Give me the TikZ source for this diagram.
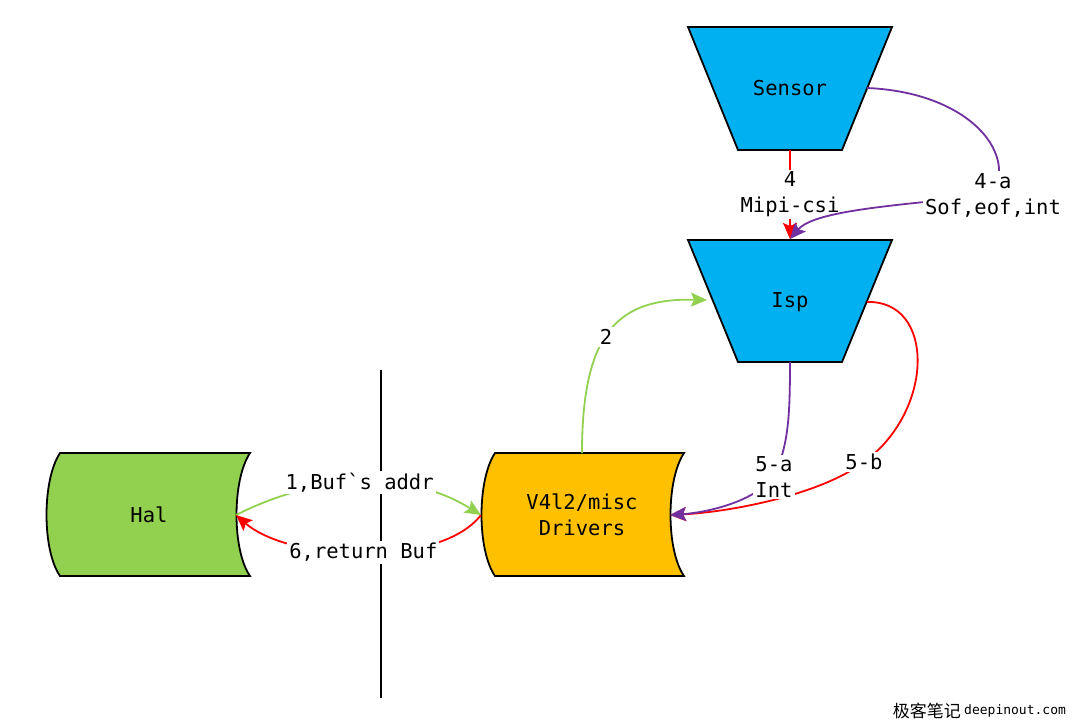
\documentclass[tikz,border=0pt]{standalone}
\usepackage{fontspec}
\usepackage{xcolor}
\usepackage{tikz}
\setmonofont{DejaVu Sans Mono}
\newfontfamily\cjk{Noto Sans CJK SC}
\usetikzlibrary{arrows.meta}
\definecolor{ispblue}{RGB}{0,176,240}
\definecolor{halgreen}{RGB}{146,208,80}
\definecolor{drvorange}{RGB}{255,192,0}
\definecolor{irqpurple}{RGB}{112,48,160}
\definecolor{busred}{RGB}{255,0,0}
\tikzset{
  box/.style={draw=black, line width=1.8pt, line join=miter},
  txt/.style={font=\ttfamily\fontsize{20.5}{26}\selectfont, align=center, inner sep=1pt, text=black},
  lab/.style={txt, fill=white, inner sep=2pt},
  wire/.style={line width=1.8pt, -{Stealth[length=16pt,width=14pt,inset=3pt]}},
}

\begin{document}
\begin{tikzpicture}[x=1pt,y=-1pt]
\useasboundingbox (0,0) rectangle (1074,721);

\draw[box, fill=ispblue] (688,27)--(892,27)--(842,150)--(738,150)--cycle;
\draw[box, fill=ispblue] (688,240)--(892,240)--(842,362)--(738,362)--cycle;
\draw[box, fill=halgreen] (60,453)--(250,453) .. controls (232,480) and (232,550) .. (250,576)
  --(60,576) .. controls (42,550) and (42,480) .. (60,453)--cycle;
\draw[box, fill=drvorange] (495,453)--(684,453) .. controls (666,480) and (666,550) .. (684,576)
  --(495,576) .. controls (477,550) and (477,480) .. (495,453)--cycle;

\node[txt] (sensor) at (790,88) {Sensor};
\node[txt] (isp) at (790,302) {Isp};
\node[txt] (hal) at (149,515) {Hal};
\node[txt] (drv) at (582,515) {V4l2/misc\\Drivers};

\coordinate (sensorB) at (790,150);
\coordinate (sensorR) at (867,88);
\coordinate (ispT) at (790,239);
\coordinate (ispL) at (707,300);
\coordinate (ispR) at (867,302);
\coordinate (ispB) at (790,362);
\coordinate (halR) at (236,515);
\coordinate (drvL) at (481,515);
\coordinate (drvR) at (670,515);
\coordinate (drvT) at (582,453);
\coordinate (wallT) at (381,370);
\coordinate (wallB) at (381,698);

\draw[line width=1.6pt] (wallT)--(wallB);

\draw[wire, halgreen] (halR) .. controls (315,475) and (405,468) .. node[lab, pos=0.5] (buf) {1,Buf\symbol{"60}s addr} (drvL);
\draw[wire, busred] (drvL) .. controls (440,568) and (290,562) .. node[lab, pos=0.5] (ret) {6,return Buf} (halR);
\draw[wire, halgreen] (drvT) .. controls (582,330) and (620,298) .. node[lab, pos=0.45] (two) {2} (ispL);
\draw[wire, busred] (sensorB) -- node[lab, pos=0.5] (mipi) {4\\Mipi-csi} (ispT);
\draw[wire, irqpurple] (sensorR) .. controls (965,92) and (1018,150) .. (993,195) node[lab] (sof) {4-a\\Sof,eof,int}
  .. controls (900,205) and (815,210) .. (ispT);
\draw[wire, busred] (ispR) .. controls (935,300) and (935,410) .. (864,462) node[lab] (fiveb) {5-b}
  .. controls (820,495) and (730,512) .. (drvR);
\draw[wire, irqpurple] (ispB) .. controls (790,420) and (788,445) .. (774,477) node[lab] (fivea) {5-a\\Int}
  .. controls (750,505) and (700,513) .. (drvR);

\node[font=\cjk\fontsize{17}{17}\selectfont, anchor=east, inner sep=0pt] (wmcjk) at (961,711) {极客笔记};
\node[font=\ttfamily\fontsize{13}{13}\selectfont, anchor=west, inner sep=0pt] (wmurl) at (964,711) {deepinout.com};
\end{tikzpicture}
\end{document}
